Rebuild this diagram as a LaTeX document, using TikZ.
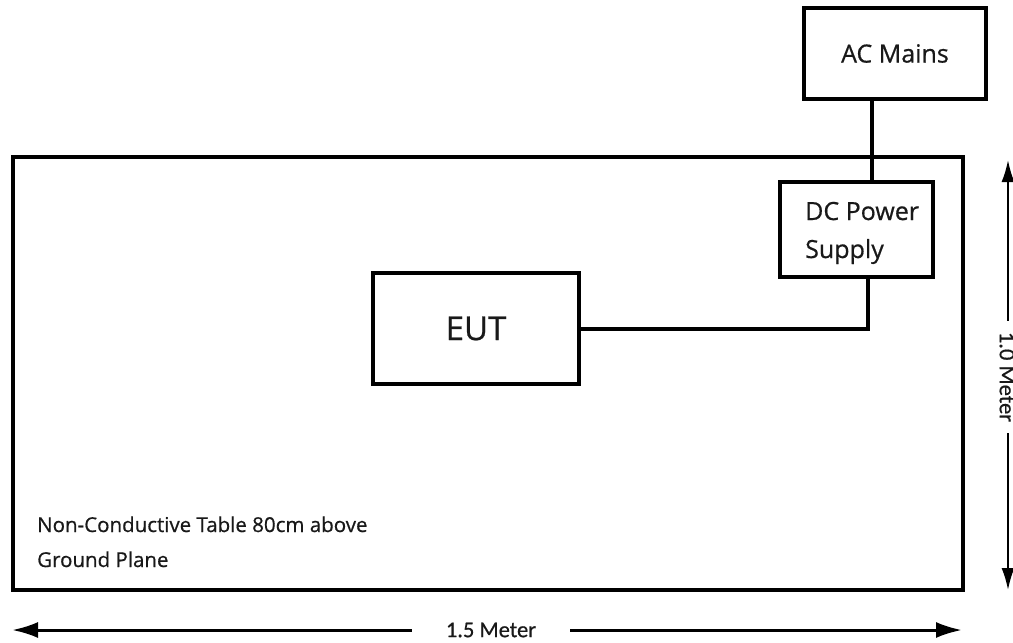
\documentclass[tikz,border=0pt]{standalone}
\usepackage{fontspec}
\setmainfont{Open Sans}[FakeBold=0.6]
\newfontfamily\dimfont{Carlito}[FakeBold=0.6]
\usetikzlibrary{arrows.meta}
\begin{document}
\begin{tikzpicture}[x=1pt,y=-1pt,
  box/.style={draw, line width=4pt, inner sep=0pt},
  wire/.style={line width=4pt},
  lbl/.style={font=\fontsize{25}{30}\selectfont, text=black!90},
  small/.style={font=\fontsize{20.5}{24}\selectfont, text=black!90, anchor=base west, inner sep=0pt},
  dimlbl/.style={font=\dimfont\fontsize{22.5}{26}\selectfont, text=black!90, inner ysep=0pt},
  hdim/.style={line width=3pt, -{Latex[length=26pt,width=16pt]}},
  vdim/.style={line width=2pt, -{Latex[length=22pt,width=13pt]}}]
\useasboundingbox (0,0) rectangle (1013,643);
% table
\node[box, minimum width=950pt, minimum height=433pt] (table) at (488,373.5) {};
\node[small] (t1) at (37,532) {Non-Conductive Table 80cm above};
\node[small] (t2) at (37,567) {Ground Plane};
% boxes
\node[box, lbl, minimum width=182pt, minimum height=91pt] (ac) at (895,53.5) {AC Mains};
\node[box, minimum width=153pt, minimum height=95pt] (dc) at (856,229.5) {};
\node[lbl, anchor=base west, inner sep=0pt] (dc1) at (805,220) {DC Power};
\node[lbl, anchor=base west, inner sep=0pt] (dc2) at (805,258) {Supply};
\node[box, minimum width=206pt, minimum height=111pt, font=\fontsize{33}{38}\selectfont, text=black!90] (eut) at (476,328.5) {EUT};
% connectors
\draw[wire] ([xshift=-23pt]ac.south) -- ([xshift=16pt]dc.north);
\draw[wire] (eut.east) -| ([xshift=12pt]dc.south);
% dimensions
\coordinate (hL) at (12,630);
\coordinate (hR) at (962,630);
\node[dimlbl, inner xsep=34pt] (hlab) at (491,630) {1.5 Meter};
\draw[hdim] (hlab.west) -- (hL);
\draw[hdim] (hlab.east) -- (hR);
\coordinate (vT) at (1008,160);
\coordinate (vB) at (1008,590);
\node[dimlbl, rotate=-90, inner xsep=11pt] (vlab) at (1007,377) {1.0 Meter};
\draw[vdim] (vlab.west -| vT) -- (vT);
\draw[vdim] (vlab.east -| vB) -- (vB);
\end{tikzpicture}
\end{document}
